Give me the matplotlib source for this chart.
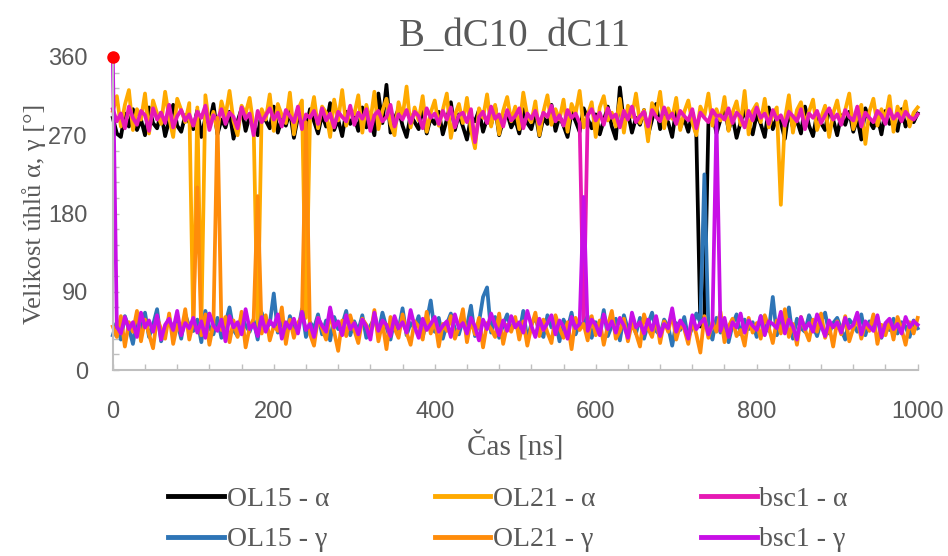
import numpy as np
import matplotlib.pyplot as plt

# time axis: one sample every 5 ns
time_ns = np.arange(0, 1001, 5)

ol15_alpha = [
    290, 272, 268, 295, 280, 300, 276, 288, 270, 302, 284, 278, 296, 269, 287, 305, 281, 274, 293, 285,
    277, 299, 268, 290, 283, 306, 271, 288, 279, 297, 266, 286, 301, 275, 292, 282, 270, 296, 287, 278,
    303, 273, 289, 281, 298, 267, 291, 284, 276, 300, 286, 272, 294, 280, 307, 276, 288, 269, 297, 283,
    291, 275, 302, 279, 286, 270, 318, 284, 328, 273, 289, 300, 281, 268, 293, 285, 277, 304, 272, 290,
    283, 297, 271, 288, 308, 276, 294, 280, 265, 291, 286, 299, 274, 289, 282, 303, 270, 287, 295, 279,
    288, 272, 300, 284, 277, 296, 269, 290, 283, 305, 275, 292, 281, 268, 297, 286, 274, 301, 289, 278,
    294, 271, 287, 303, 280, 266, 325, 284, 296, 273, 290, 282, 299, 270, 288, 306, 277, 292, 285, 268,
    301, 279, 289, 274, 296, 270, 50, 62, 283, 297, 272, 288, 304, 276, 291, 267, 285, 299, 280, 271,
    294, 283, 268, 302, 277, 290, 285, 266, 298, 279, 287, 272, 303, 281, 269, 295, 284, 276, 300, 288,
    270, 293, 282, 297, 274, 289, 265, 301, 286, 278, 292, 271, 298, 283, 287, 275, 300, 280, 290, 285,
    295]

ol21_alpha = [
    298, 315, 280, 305, 322, 276, 300, 288, 318, 272, 310, 295, 283, 320, 290, 268, 312, 299, 285, 307,
    45, 302, 50, 316, 281, 297, 274, 309, 292, 321, 286, 270, 304, 295, 313, 279, 45, 300, 288, 317,
    275, 306, 293, 284, 319, 271, 299, 310, 60, 289, 314, 278, 303, 296, 268, 311, 287, 322, 281, 300,
    294, 316, 273, 305, 286, 320, 277, 298, 312, 283, 270, 308, 291, 326, 279, 302, 287, 315, 274, 296,
    310, 281, 299, 318, 267, 293, 306, 284, 313, 276, 255, 301, 290, 317, 280, 305, 271, 298, 314, 286,
    303, 277, 319, 292, 285, 309, 270, 297, 316, 282, 300, 288, 311, 274, 306, 295, 321, 279, 293, 308,
    268, 302, 315, 287, 296, 280, 312, 273, 304, 291, 318, 284, 299, 263, 307, 294, 320, 278, 301, 289,
    313, 276, 297, 310, 285, 270, 303, 292, 318, 281, 300, 287, 314, 275, 296, 309, 282, 321, 271, 298,
    306, 285, 312, 279, 294, 302, 190, 288, 316, 273, 299, 308, 283, 297, 311, 276, 290, 304, 268, 295,
    310, 284, 299, 318, 277, 292, 305, 260, 297, 312, 281, 300, 288, 315, 274, 303, 291, 309, 280, 296,
    302]

bsc1_alpha = [
    300, 286, 295, 278, 303, 290, 282, 298, 293, 275, 301, 288, 296, 284, 305, 279, 292, 299, 287, 294,
    281, 297, 290, 304, 276, 293, 287, 300, 283, 296, 291, 278, 302, 289, 295, 270, 298, 285, 293, 301,
    288, 296, 280, 299, 292, 285, 303, 277, 294, 290, 298, 283, 301, 287, 295, 279, 297, 291, 286, 304,
    282, 296, 289, 300, 275, 293, 298, 286, 291, 305, 280, 294, 288, 299, 284, 297, 292, 278, 301, 290,
    295, 283, 298, 288, 302, 279, 293, 296, 285, 300, 262, 291, 297, 284, 303, 289, 294, 280, 299, 287,
    292, 301, 278, 295, 289, 298, 283, 296, 291, 304, 286, 293, 281, 299, 290, 295, 284, 55, 293, 300,
    287, 296, 282, 301, 290, 294, 279, 298, 288, 303, 285, 292, 297, 280, 299, 291, 286, 302, 289, 295,
    283, 298, 292, 287, 300, 278, 296, 290, 285, 299, 292, 293, 288, 301, 284, 296, 291, 279, 298, 287,
    302, 290, 295, 283, 299, 288, 293, 281, 297, 292, 286, 300, 277, 295, 290, 298, 284, 293, 301, 288,
    294, 282, 299, 291, 287, 303, 280, 296, 290, 285, 298, 293, 283, 300, 289, 295, 286, 297, 291, 288,
    294]

ol15_gamma = [
    40, 55, 35, 62, 48, 30, 58, 44, 66, 38, 52, 70, 33, 47, 60, 42, 55, 36, 64, 50,
    45, 58, 32, 68, 49, 41, 60, 37, 54, 72, 46, 39, 63, 51, 44, 57, 35, 66, 48, 53,
    88, 43, 59, 36, 62, 50, 45, 70, 38, 55, 48, 64, 41, 57, 34, 61, 47, 52, 68, 40,
    56, 45, 63, 37, 51, 59, 43, 66, 49, 35, 58, 46, 71, 40, 54, 48, 62, 38, 56, 80,
    44, 60, 36, 53, 65, 47, 41, 58, 50, 74, 39, 55, 84, 95, 43, 61, 37, 52, 64, 46,
    57, 42, 68, 35, 53, 60, 45, 38, 63, 49, 56, 33, 58, 47, 66, 41, 54, 50, 62, 37,
    55, 44, 69, 39, 51, 59, 34, 63, 47, 56, 42, 60, 36, 53, 66, 45, 40, 58, 50, 28,
    54, 46, 61, 37, 49, 65, 55, 225, 48, 35, 60, 43, 57, 32, 52, 64, 41, 58, 47, 55,
    38, 62, 50, 45, 84, 40, 57, 53, 72, 36, 59, 48, 44, 63, 51, 39, 56, 66, 42, 54,
    60, 47, 35, 58, 52, 44, 64, 40, 56, 49, 61, 37, 53, 46, 59, 42, 55, 50, 38, 57,
    48]

ol21_gamma = [
    50, 38, 62, 27, 55, 44, 68, 33, 58, 41, 25, 60, 47, 36, 65, 30, 52, 43, 70, 35,
    56, 210, 40, 64, 29, 53, 290, 46, 61, 32, 57, 38, 67, 26, 49, 59, 200, 42, 63, 34,
    51, 45, 72, 30, 58, 37, 54, 62, 285, 41, 28, 60, 48, 35, 66, 44, 22, 57, 39, 63,
    46, 31, 59, 52, 40, 69, 33, 55, 24, 61, 48, 37, 64, 43, 29, 56, 50, 35, 67, 42,
    58, 27, 53, 45, 62, 36, 49, 70, 32, 57, 41, 60, 26, 54, 47, 38, 65, 30, 52, 44,
    61, 35, 56, 28, 50, 66, 39, 58, 43, 31, 63, 48, 37, 55, 24, 60, 46, 53, 34, 62,
    40, 57, 29, 51, 68, 36, 45, 59, 33, 54, 42, 27, 64, 48, 38, 61, 31, 56, 44, 65,
    35, 52, 47, 30, 58, 41, 20, 62, 37, 55, 44, 67, 32, 50, 59, 39, 46, 28, 60, 43,
    54, 36, 63, 49, 31, 57, 42, 70, 38, 53, 29, 61, 46, 34, 58, 44, 65, 37, 51, 27,
    56, 41, 62, 33, 48, 59, 36, 54, 45, 64, 30, 52, 40, 57, 35, 61, 47, 29, 55, 42,
    60]

bsc1_gamma = [
    360, 50, 42, 61, 47, 55, 38, 66, 49, 57, 44, 63, 35, 52, 59, 46, 68, 40, 54, 48,
    60, 43, 56, 37, 65, 51, 45, 58, 33, 62, 49, 55, 41, 70, 47, 53, 39, 61, 44, 57,
    50, 64, 36, 55, 48, 59, 42, 67, 46, 53, 38, 60, 51, 44, 72, 49, 56, 40, 63, 47,
    54, 41, 58, 50, 35, 66, 45, 57, 52, 39, 62, 48, 55, 43, 69, 50, 37, 59, 46, 53,
    61, 44, 51, 56, 38, 64, 48, 54, 42, 60, 50, 34, 58, 47, 65, 52, 40, 57, 45, 62,
    49, 55, 43, 68, 51, 38, 59, 46, 54, 63, 41, 57, 50, 36, 61, 48, 53, 199, 45, 58,
    52, 40, 64, 47, 56, 43, 60, 51, 37, 66, 49, 55, 42, 58, 46, 62, 39, 53, 48, 71,
    44, 57, 50, 36, 63, 47, 54, 59, 41, 52, 288, 45, 60, 38, 55, 49, 65, 43, 57, 51,
    46, 62, 40, 56, 53, 48, 67, 42, 58, 50, 35, 61, 47, 54, 44, 64, 51, 39, 57, 49,
    55, 43, 60, 48, 52, 66, 41, 56, 50, 45, 63, 38, 54, 59, 47, 53, 42, 61, 49, 56,
    52]

labels = ["OL15 - α", "OL21 - α", "bsc1 - α", "OL15 - γ", "OL21 - γ", "bsc1 - γ"]
colors = ["#000000", "#FFAA00", "#E619B4", "#2E75B6", "#FF8C0A", "#C80FE6"]
series = [ol15_alpha, ol21_alpha, bsc1_alpha, ol15_gamma, ol21_gamma, bsc1_gamma]

grey = "#595959"
serif = ["Liberation Serif", "DejaVu Serif"]

fig = plt.figure(figsize=(9.48, 5.56), dpi=100)
ax = fig.add_axes([0.119, 0.3345, 0.849, 0.563])

lines = []
for vals, col, lab in zip(series, colors, labels):
    ln, = ax.plot(time_ns[:len(vals)], vals, color=col, lw=2.7, label=lab,
                  solid_joinstyle="round", clip_on=False)
    lines.append(ln)

# red marker on the first point
ax.plot(time_ns[0], bsc1_gamma[0], "o", color="#FF0000", ms=8, clip_on=False, zorder=5)

ax.set_xlim(0, 1000)
ax.set_ylim(0, 360)
ax.set_xticks(range(0, 1001, 200))
ax.set_xticks(range(0, 1001, 40), minor=True)
ax.set_yticks(range(0, 361, 90))
ax.set_yticks(range(0, 361, 18), minor=True)

for s in ["top", "right"]:
    ax.spines[s].set_visible(False)
for s in ["left", "bottom"]:
    ax.spines[s].set_color("#BFBFBF")
    ax.spines[s].set_linewidth(1.5)

ax.tick_params(which="both", direction="in", color="#BFBFBF", length=4, width=1)
ax.tick_params(axis="y", pad=18)
ax.tick_params(axis="x", pad=22)
for t in ax.get_xticklabels() + ax.get_yticklabels():
    t.set_fontfamily(["Liberation Sans", "DejaVu Sans"])
    t.set_fontsize(17)
    t.set_color(grey)

ax.set_title("B_dC10_dC11", fontsize=28, family=serif, color=grey, pad=8)
ax.set_xlabel("Čas [ns]", fontsize=21, family=serif, color=grey, labelpad=5)
ax.set_ylabel("Velikost úhlů α, γ [°]", fontsize=19, family=serif, color=grey, labelpad=2)

order = [0, 3, 1, 4, 2, 5]
leg = fig.legend([lines[i] for i in order], [labels[i] for i in order],
                 ncol=3, loc="center", bbox_to_anchor=(0.536, 0.066),
                 frameon=False, handlelength=2.0, handletextpad=0.1,
                 columnspacing=3.8, labelspacing=0.55,
                 prop={"family": serif, "size": 20})
for t in leg.get_texts():
    t.set_color(grey)
for h in leg.get_lines():
    h.set_linewidth(3.5)

fig.savefig("out.png", dpi=100)
